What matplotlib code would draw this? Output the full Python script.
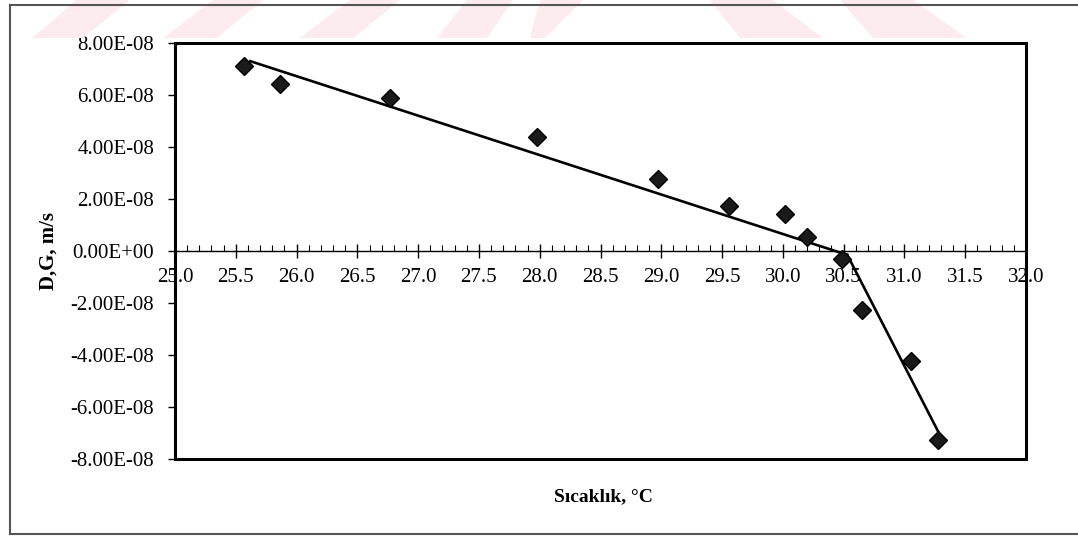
import numpy as np
import matplotlib
matplotlib.use("Agg")
import matplotlib.pyplot as plt
from matplotlib.ticker import MultipleLocator, FuncFormatter
from matplotlib.patches import Rectangle, Polygon
from matplotlib.lines import Line2D

# measured points (temperature in C, growth/dissolution rate in m/s)
temp = [25.57, 25.86, 26.77, 27.98, 28.97, 29.56, 30.02, 30.20, 30.49, 30.65, 31.05, 31.28]
rate = [7.12e-8, 6.42e-8, 5.90e-8, 4.38e-8, 2.77e-8, 1.73e-8, 1.42e-8, 0.54e-8,
        -0.31e-8, -2.27e-8, -4.23e-8, -7.27e-8]

# the two trend lines (end points)
fit1_x = [25.62, 30.53]
fit1_y = [7.30e-8, -0.15e-8]
fit2_x = [30.53, 31.30]
fit2_y = [-0.15e-8, -7.15e-8]

W, H = 1078, 536
fig = plt.figure(figsize=(W / 100, H / 100), dpi=100)
plt.rcParams['font.family'] = ['Liberation Serif', 'DejaVu Serif']


def px(x, y):
    # pixel (from top left) -> figure fraction
    return (x / W, 1 - y / H)


# faint pink watermark stripes at the top of the scan
stripes = [
    [(32, 38), (83, 38), (130, 0), (77, 0)],
    [(163, 38), (217, 38), (263, 0), (213, 0)],
    [(300, 38), (353, 38), (400, 0), (350, 0)],
    [(437, 38), (487, 38), (513, 0), (467, 0)],
    [(530, 38), (545, 38), (583, 0), (540, 0)],
    [(740, 38), (823, 38), (773, 0), (710, 0)],
    [(873, 38), (967, 38), (913, 0), (840, 0)],
]
for s in stripes:
    fig.patches.append(Polygon([px(*p) for p in s], closed=True, transform=fig.transFigure,
                               facecolor='#fdecef', edgecolor='none', zorder=0))

# scanned page border
border_col = '#555555'
fig.lines.append(Line2D([10 / W, 1.0], [1 - 5 / H] * 2, transform=fig.transFigure, color=border_col, lw=1.5))
fig.lines.append(Line2D([10 / W, 10 / W], [1 - 5 / H, 1 - 534 / H], transform=fig.transFigure, color=border_col, lw=1.5))
fig.lines.append(Line2D([10 / W, 1.0], [1 - 534 / H] * 2, transform=fig.transFigure, color=border_col, lw=1.5))

ax = fig.add_axes([175 / W, 1 - 459 / H, (1026 - 175) / W, (459 - 43) / H])
ax.patch.set_alpha(0)

ax.plot(fit1_x, fit1_y, color='black', lw=1.9, zorder=3)
ax.plot(fit2_x, fit2_y, color='black', lw=1.9, zorder=3)
ax.plot(temp, rate, linestyle='none', marker='D', markersize=9.5,
        markerfacecolor='#1a1a1a', markeredgecolor='black', zorder=4)

ax.set_xlim(25.0, 32.0)
ax.set_ylim(-8e-8, 8e-8)

# x axis runs through zero, frame drawn separately
for side in ['top', 'right']:
    ax.spines[side].set_visible(False)
ax.spines['bottom'].set_position(('data', 0))
ax.spines['bottom'].set_linewidth(1.0)
ax.spines['left'].set_visible(False)
ax.add_patch(Rectangle((0, 0), 1, 1, transform=ax.transAxes, fill=False,
                       edgecolor='black', lw=2.2, zorder=6, clip_on=False))

ax.xaxis.set_major_locator(MultipleLocator(0.5))
ax.xaxis.set_minor_locator(MultipleLocator(0.1))
ax.xaxis.set_major_formatter(FuncFormatter(lambda v, p: f"{v:.1f}"))
ax.tick_params(axis='x', which='major', direction='inout', length=10, width=1.0,
               labelsize=15, pad=7)
ax.tick_params(axis='x', which='minor', direction='in', length=4, width=0.8)

ax.yaxis.set_major_locator(MultipleLocator(2e-8))
ax.yaxis.set_major_formatter(FuncFormatter(lambda v, p: f"{v:.2E}"))
ax.tick_params(axis='y', which='major', direction='out', length=5, width=1.0,
               labelsize=15, pad=10)
ax.yaxis.get_offset_text().set_visible(False)

ax.set_xlabel("Sıcaklık, °C", fontsize=14, fontweight='bold')
ax.xaxis.set_label_coords(0.504, -0.07)
ax.set_ylabel("D,G, m/s", fontsize=15, fontweight='bold')
ax.yaxis.set_label_coords(-0.137, 0.5)

fig.savefig("out.png", dpi=100)
